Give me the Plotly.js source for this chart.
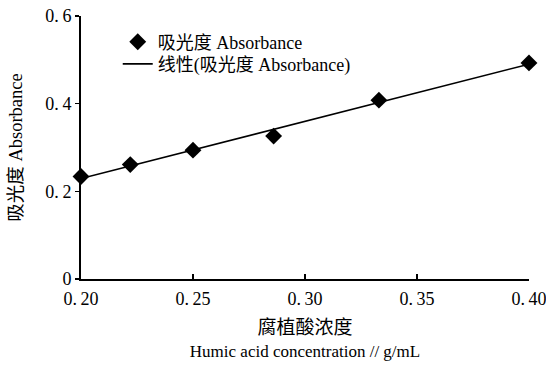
<!DOCTYPE html>
<html>
<head>
<meta charset="utf-8">
<script src="https://cdn.plot.ly/plotly-3.0.1.min.js"></script>
<style>html,body{margin:0;padding:0;background:#fff;}#chart{width:546px;height:365px;}</style>
</head>
<body>
<div id="chart"></div>
<script>
// Humic acid concentration (g/mL) and measured absorbance
const concentration = [0.200, 0.222, 0.250, 0.286, 0.333, 0.400];
const absorbance = [0.234, 0.261, 0.294, 0.326, 0.408, 0.493];
const xTicks = [0.20, 0.25, 0.30, 0.35, 0.40];
const xTickText = ['0.\u200920', '0.\u200925', '0.\u200930', '0.\u200935', '0.\u200940'];
const yTicks = [0, 0.2, 0.4, 0.6];
const yTickText = ['0', '0.\u20092', '0.\u20094', '0.\u20096'];

// Least-squares linear trend line
const n = concentration.length;
const mx = concentration.reduce((a, b) => a + b, 0) / n;
const my = absorbance.reduce((a, b) => a + b, 0) / n;
let sxy = 0, sxx = 0;
for (let i = 0; i < n; i++) {
  sxy += (concentration[i] - mx) * (absorbance[i] - my);
  sxx += (concentration[i] - mx) ** 2;
}
const slope = sxy / sxx;
const intercept = my - slope * mx;
const fitX = [concentration[0], concentration[n - 1]];
const fitY = fitX.map(x => intercept + slope * x);

const FONT = '"Liberation Serif", "Noto Sans CJK SC", serif';

const traces = [
  {
    x: concentration, y: absorbance, type: 'scatter', mode: 'markers',
    name: '吸光度 Absorbance',
    marker: {symbol: 'diamond', size: 13, color: '#000'},
    cliponaxis: false, legend: 'legend'
  },
  {
    x: fitX, y: fitY, type: 'scatter', mode: 'lines',
    name: '线性(吸光度 Absorbance)',
    line: {color: '#000', width: 1.6},
    cliponaxis: false, legend: 'legend2'
  }
];

// One legend box per entry so the two rows sit close together
const legendBase = {
  x: 0.082, xanchor: 'left', yanchor: 'middle',
  bgcolor: 'rgba(0,0,0,0)', font: {size: 18}
};

const layout = {
  width: 546, height: 365,
  margin: {l: 81, r: 17, t: 16, b: 86},
  paper_bgcolor: '#fff', plot_bgcolor: '#fff',
  font: {family: FONT, size: 17, color: '#000'},
  showlegend: true,
  legend: Object.assign({}, legendBase, {y: 0.901}),
  legend2: Object.assign({}, legendBase, {y: 0.817}),
  xaxis: {
    range: [0.2, 0.40001], tickvals: xTicks, ticktext: xTickText,
    showgrid: false, zeroline: false,
    showline: true, linecolor: '#000', linewidth: 2,
    ticks: 'inside', ticklen: 5, tickcolor: '#000', tickwidth: 1.5,
    tickfont: {size: 18}, ticklabelstandoff: 2, ticklabeloverflow: 'allow',
    title: {
      text: '<span style="font-size:19px">腐植酸浓度</span><br>Humic acid concentration // g/mL',
      font: {size: 17}, standoff: 15
    }
  },
  yaxis: {
    range: [0, 0.6], tickvals: yTicks, ticktext: yTickText,
    showgrid: false, zeroline: false,
    showline: true, linecolor: '#000', linewidth: 2,
    ticks: 'outside', ticklen: 4, tickcolor: '#000', tickwidth: 1.5,
    tickfont: {size: 18},
    title: {text: '吸光度 Absorbance', font: {size: 18.5}, standoff: 18}
  }
};

Plotly.newPlot('chart', traces, layout, {displayModeBar: false, staticPlot: true});
</script>
</body>
</html>
